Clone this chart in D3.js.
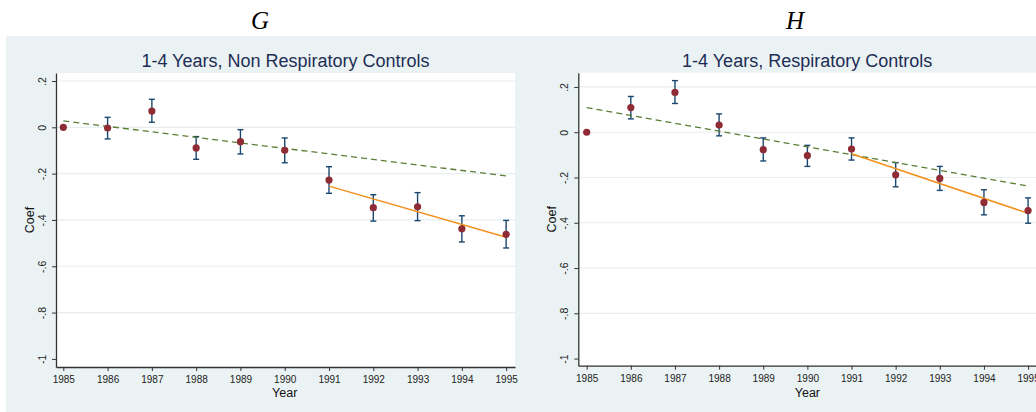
<!DOCTYPE html>
<html>
<head>
<meta charset="utf-8">
<script src="https://cdn.jsdelivr.net/npm/d3@7"></script>
<style>
  body { margin: 0; background: #fff; }
  svg { display: block; }
</style>
</head>
<body>
<svg id="chart" width="1036" height="412"></svg>
<script>
// years on the x axis
const years = [1985, 1986, 1987, 1988, 1989, 1990, 1991, 1992, 1993, 1994, 1995];

// panel G: 1-4 years, non respiratory controls
const coefG = [0, -0.003, 0.070, -0.089, -0.062, -0.099, -0.228, -0.347, -0.343, -0.438, -0.462];
const lowG  = [0, -0.050, 0.022, -0.138, -0.115, -0.153, -0.285, -0.405, -0.403, -0.495, -0.521];
const highG = [0,  0.043, 0.121, -0.040, -0.010, -0.046, -0.170, -0.291, -0.282, -0.382, -0.402];
const preTrendG  = [[1985, 0.028], [1995, -0.210]];
const postTrendG = [[1991, -0.254], [1995, -0.475]];

// panel H: 1-4 years, respiratory controls
const coefH = [0, 0.109, 0.176, 0.032, -0.077, -0.103, -0.074, -0.188, -0.204, -0.310, -0.346];
const lowH  = [0, 0.059, 0.127, -0.016, -0.127, -0.151, -0.123, -0.241, -0.257, -0.365, -0.402];
const highH = [0, 0.158, 0.228, 0.081, -0.025, -0.058, -0.025, -0.134, -0.151, -0.254, -0.290];
const preTrendH  = [[1985, 0.109], [1995, -0.238]];
const postTrendH = [[1991, -0.095], [1995, -0.358]];

// axis ticks
const yTicks = [0.2, 0, -0.2, -0.4, -0.6, -0.8, -1];
const yTickLabels = [".2", "0", "-.2", "-.4", "-.6", "-.8", "-1"];
const yGrid = [0.2, 0, -0.2, -0.4, -0.6, -0.8];

const panels = [
  { letter: "G", title: "1-4 Years, Non Respiratory Controls",
    coef: coefG, low: lowG, high: highG, pre: preTrendG, post: postTrendG,
    bg: [6, 36, 521, 376], plot: { left: 56, right: 515, top: 73, bottom: 367 },
    yDomain: [-1.035, 0.2346], xDomain: [1984.835, 1995.2], letterX: 260 },
  { letter: "H", title: "1-4 Years, Respiratory Controls",
    coef: coefH, low: lowH, high: highH, pre: preTrendH, post: postTrendH,
    bg: [527, 36, 520, 376], plot: { left: 578.3, right: 1040, top: 72.7, bottom: 365.7 },
    yDomain: [-1.0315, 0.263], xDomain: [1984.81, 1995.27], letterX: 795 }
];

const svg = d3.select("#chart");

panels.forEach(function (p) {
  const g = svg.append("g");

  // panel letter above
  g.append("text")
    .attr("x", p.letterX)
    .attr("y", 28.5)
    .attr("text-anchor", "middle")
    .style("font-family", "'Liberation Serif', 'DejaVu Serif', serif")
    .style("font-style", "italic")
    .style("font-size", "25px")
    .style("fill", "#000")
    .text(p.letter);

  // graph region background
  g.append("rect")
    .attr("x", p.bg[0]).attr("y", p.bg[1])
    .attr("width", p.bg[2]).attr("height", p.bg[3])
    .style("fill", "#eaf2f3");

  const x = d3.scaleLinear().domain(p.xDomain).range([p.plot.left, p.plot.right]);
  const y = d3.scaleLinear().domain(p.yDomain).range([p.plot.bottom, p.plot.top]);

  // plot area
  g.append("rect")
    .attr("x", p.plot.left).attr("y", p.plot.top)
    .attr("width", p.plot.right - p.plot.left)
    .attr("height", p.plot.bottom - p.plot.top)
    .style("fill", "#fff");

  // gridlines
  g.selectAll(".grid").data(yGrid).enter().append("line")
    .attr("x1", p.plot.left).attr("x2", p.plot.right)
    .attr("y1", d => y(d)).attr("y2", d => y(d))
    .style("stroke", "#e6eef0")
    .style("stroke-width", 1.2);

  // title
  g.append("text")
    .attr("x", (p.plot.left + Math.min(p.plot.right, 1036)) / 2)
    .attr("y", 67)
    .attr("text-anchor", "middle")
    .style("font-family", "'Liberation Sans', Arial, sans-serif")
    .style("font-size", "18px")
    .style("fill", "#1e2d55")
    .text(p.title);

  // y axis
  const yAxis = g.append("g")
    .attr("transform", "translate(" + p.plot.left + ",0)")
    .call(d3.axisLeft(y).tickValues(yTicks)
      .tickFormat((d, i) => yTickLabels[i]).tickSize(4).tickSizeOuter(0));
  yAxis.select(".domain").style("stroke", "#333").style("stroke-width", 1.3);
  yAxis.selectAll(".tick line").style("stroke", "#333");
  yAxis.selectAll(".tick text")
    .attr("x", null).attr("dy", null)
    .attr("transform", "translate(-10.5,0) rotate(-90)")
    .attr("text-anchor", "middle")
    .style("font-family", "'Liberation Sans', Arial, sans-serif")
    .style("font-size", "10.5px")
    .style("fill", "#222");

  // x axis
  const xAxis = g.append("g")
    .attr("transform", "translate(0," + p.plot.bottom + ")")
    .call(d3.axisBottom(x).tickValues(years).tickFormat(d3.format("d"))
      .tickSize(4).tickSizeOuter(0));
  xAxis.select(".domain").style("stroke", "#333").style("stroke-width", 1.3);
  xAxis.selectAll(".tick line").style("stroke", "#333");
  xAxis.selectAll(".tick text")
    .attr("y", 16).attr("dy", null)
    .style("font-family", "'Liberation Sans', Arial, sans-serif")
    .style("font-size", "10px")
    .style("fill", "#222");

  // axis titles
  g.append("text")
    .attr("transform", "translate(" + (p.plot.left - 22.5) + "," + ((p.plot.top + p.plot.bottom) / 2) + ") rotate(-90)")
    .attr("text-anchor", "middle")
    .style("font-family", "'Liberation Sans', Arial, sans-serif")
    .style("font-size", "12.5px")
    .style("fill", "#111")
    .text("Coef");

  g.append("text")
    .attr("x", x(1990))
    .attr("y", 397)
    .attr("text-anchor", "middle")
    .style("font-family", "'Liberation Sans', Arial, sans-serif")
    .style("font-size", "12.5px")
    .style("fill", "#111")
    .text("Year");

  const rows = years.map((yr, i) => ({ year: yr, coef: p.coef[i], low: p.low[i], high: p.high[i] }));
  const bars = rows.filter(d => d.high !== d.low);

  // error bars with caps
  const eb = g.append("g").style("stroke", "#1a476f").style("stroke-width", 1.4);
  eb.selectAll(".v").data(bars).enter().append("line")
    .attr("x1", d => x(d.year)).attr("x2", d => x(d.year))
    .attr("y1", d => y(d.low)).attr("y2", d => y(d.high));
  eb.selectAll(".ct").data(bars).enter().append("line")
    .attr("x1", d => x(d.year) - 3).attr("x2", d => x(d.year) + 3)
    .attr("y1", d => y(d.high)).attr("y2", d => y(d.high));
  eb.selectAll(".cb").data(bars).enter().append("line")
    .attr("x1", d => x(d.year) - 3).attr("x2", d => x(d.year) + 3)
    .attr("y1", d => y(d.low)).attr("y2", d => y(d.low));

  const line = d3.line().x(d => x(d[0])).y(d => y(d[1]));

  // pre-period linear trend (dashed)
  g.append("path")
    .attr("d", line(p.pre))
    .style("fill", "none")
    .style("stroke", "#5a7d34")
    .style("stroke-width", 1.3)
    .style("stroke-dasharray", "6,4");

  // post-1991 trend
  g.append("path")
    .attr("d", line(p.post))
    .style("fill", "none")
    .style("stroke", "#f2901c")
    .style("stroke-width", 1.5);

  // coefficient markers
  g.selectAll(".pt").data(rows).enter().append("circle")
    .attr("cx", d => x(d.year))
    .attr("cy", d => y(d.coef))
    .attr("r", 3.6)
    .style("fill", "#8e2b35");
});
</script>
</body>
</html>
